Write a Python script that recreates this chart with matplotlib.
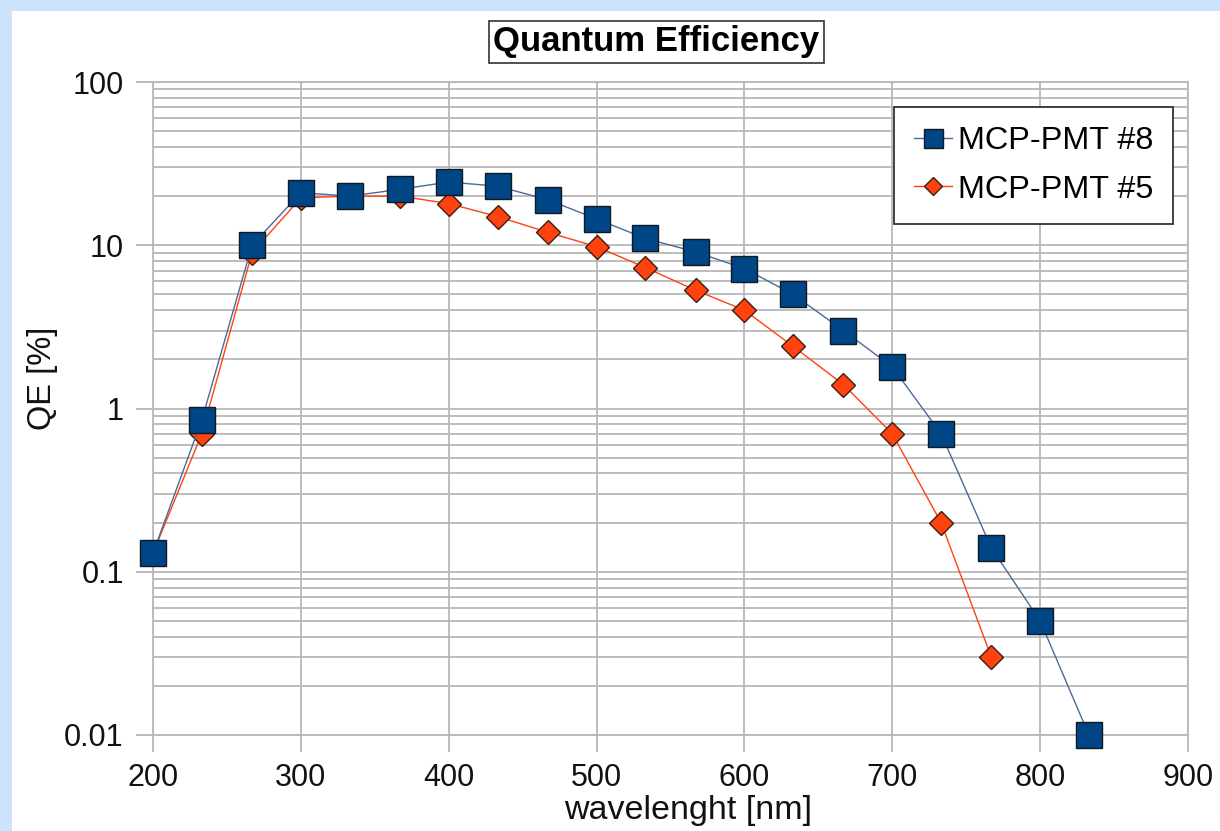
import matplotlib
matplotlib.use("Agg")
import matplotlib.pyplot as plt
from matplotlib.patches import Rectangle
from matplotlib.ticker import LogLocator, FixedLocator, NullFormatter

plt.rcParams['font.family'] = ['Liberation Sans', 'DejaVu Sans']

wavelength_8 = [200, 233, 267, 300, 333, 367, 400, 433, 467, 500, 533, 567,
                600, 633, 667, 700, 733, 767, 800, 833]
qe_8 = [0.13, 0.85, 10, 21, 20, 22, 24.4, 23, 19, 14.5, 11, 9.1,
        7.2, 5.0, 3.0, 1.8, 0.70, 0.14, 0.05, 0.01]

wavelength_5 = [200, 233, 267, 300, 333, 367, 400, 433, 467, 500, 533, 567,
                600, 633, 667, 700, 733, 767]
qe_5 = [0.13, 0.70, 9.0, 19.5, 20, 20, 18, 15, 12, 9.8, 7.3, 5.3,
        4.0, 2.4, 1.4, 0.70, 0.20, 0.03]

series_labels = ["MCP-PMT #8", "MCP-PMT #5"]
x_ticks = [200, 300, 400, 500, 600, 700, 800, 900]
y_ticks = [0.01, 0.1, 1, 10, 100]
y_tick_labels = ["0.01", "0.1", "1", "10", "100"]

W, H = 1220, 831
fig = plt.figure(figsize=(W / 100, H / 100), dpi=100)
fig.patch.set_facecolor("white")

# slide background border strips
fig.add_artist(Rectangle((0, 1 - 11 / H), 1, 11 / H, transform=fig.transFigure,
                         facecolor="#cbe4fb", edgecolor="none", zorder=0))
fig.add_artist(Rectangle((0, 0), 12 / W, 1, transform=fig.transFigure,
                         facecolor="#cbe4fb", edgecolor="none", zorder=0))

left, right, top, bottom = 153, 1188, 82, 735
ax = fig.add_axes([left / W, 1 - bottom / H, (right - left) / W, (bottom - top) / H])
ax.set_facecolor("white")

grid_c = "#b8b8b8"
ax.set_yscale("log")
ax.set_xlim(200, 900)
ax.set_ylim(0.01, 100)

ax.xaxis.set_major_locator(FixedLocator(x_ticks))
ax.set_xticklabels([str(v) for v in x_ticks])
ax.yaxis.set_major_locator(FixedLocator(y_ticks))
ax.set_yticklabels(y_tick_labels)
ax.yaxis.set_minor_locator(LogLocator(base=10, subs=range(2, 10)))
ax.yaxis.set_minor_formatter(NullFormatter())

ax.grid(True, which="major", axis="both", color=grid_c, lw=1.3)
ax.grid(True, which="minor", axis="y", color=grid_c, lw=1.3)
ax.set_axisbelow(True)
ax.tick_params(axis="both", which="major", length=12, width=1.3, color=grid_c,
               labelsize=22, labelcolor="#111111")
ax.tick_params(axis="y", which="major", pad=9)
ax.tick_params(axis="x", which="major", pad=8)
ax.tick_params(axis="y", which="minor", length=0)
for s in ax.spines.values():
    s.set_color(grid_c)
    s.set_linewidth(1.3)

l5, = ax.plot(wavelength_5, qe_5, color="#ff420e", lw=1.0, marker="D", ms=12.5,
              markerfacecolor="#ff420e", markeredgecolor="#3a2010", markeredgewidth=1.0,
              zorder=3, label=series_labels[1], clip_on=False)
l8, = ax.plot(wavelength_8, qe_8, color="#4a6a9a", lw=1.0, marker="s", ms=19,
              markerfacecolor="#004586", markeredgecolor="#101820", markeredgewidth=1.0,
              zorder=4, label=series_labels[0], clip_on=False)

ax.set_xlabel("wavelenght [nm]", fontsize=24.5, color="#111111")
ax.xaxis.set_label_coords((688 - left) / (right - left), (bottom - 795) / (bottom - top))
ax.set_ylabel("QE [%]", fontsize=23.5, color="#111111")
ax.yaxis.set_label_coords((58 - left) / (right - left), (bottom - 378) / (bottom - top))

leg = ax.legend(handles=[l8, l5], loc="upper right", bbox_to_anchor=(1173 / W, 1 - 107 / H),
                bbox_transform=fig.transFigure, fontsize=23.3, frameon=True, fancybox=False,
                shadow=False, framealpha=1, edgecolor="#333333", handlelength=1.2,
                handletextpad=0.18, borderpad=0.6, labelspacing=0.56, borderaxespad=0,
                markerscale=0.72)
leg.get_frame().set_linewidth(1.3)
leg.set_zorder(10)

fig.text(656.5 / W, 1 - 42 / H, "Quantum Efficiency", fontsize=25, fontweight="bold",
         ha="center", va="center", color="black",
         bbox=dict(boxstyle="square,pad=0.12", facecolor="white", edgecolor="#333333", lw=1.2))

fig.savefig("out.png", dpi=100, facecolor=fig.get_facecolor())
